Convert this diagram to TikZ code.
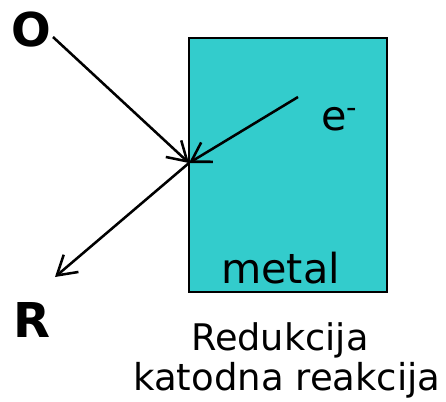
\documentclass[tikz,border=0pt]{standalone}
\usepackage{fontspec}
\setmainfont{DejaVu Sans}
\usetikzlibrary{arrows.meta}
\definecolor{metalfill}{HTML}{33CCCC}
\tikzset{
  lbl/.style={inner sep=0pt, anchor=base west, text=black},
  flow/.style={line width=1.9pt, -{Straight Barb[length=14pt,width=17pt,line width=1.9pt]}},
}
\begin{document}
\begin{tikzpicture}[x=0.75pt,y=-0.75pt]
  \useasboundingbox (0,0) rectangle (446,401);
  % electrode
  \node[draw=black, line width=1.5pt, fill=metalfill, anchor=north west,
        minimum width=198*0.75pt, minimum height=254*0.75pt, inner sep=0pt]
        (metal) at (188,37) {};
  \coordinate (surf) at (189,163);
  \coordinate (ostart) at (53,37);
  \coordinate (estart) at (298,97);
  \coordinate (rend) at (55,277);
  % labels
  \node[lbl, font=\fontsize{35}{35}\selectfont\bfseries] (O) at (11,46) {O};
  \node[lbl, font=\fontsize{36}{36}\selectfont\bfseries] (R) at (13,337) {R};
  \node[lbl, font=\fontsize{31}{31}\selectfont] (e) at (321,130) {e\textsuperscript{-}};
  \node[lbl, font=\fontsize{31}{31}\selectfont] (mt) at (221,283) {metal};
  \node[lbl, font=\fontsize{27.5}{27.5}\selectfont] (red) at (191,350) {Redukcija};
  \node[lbl, font=\fontsize{27.8}{27.8}\selectfont] (kat) at (133,390) {katodna reakcija};
  % reaction arrows
  \draw[flow] (ostart) -- (surf);
  \draw[flow] (estart) -- (surf);
  \draw[flow] (surf) -- (rend);
\end{tikzpicture}
\end{document}
